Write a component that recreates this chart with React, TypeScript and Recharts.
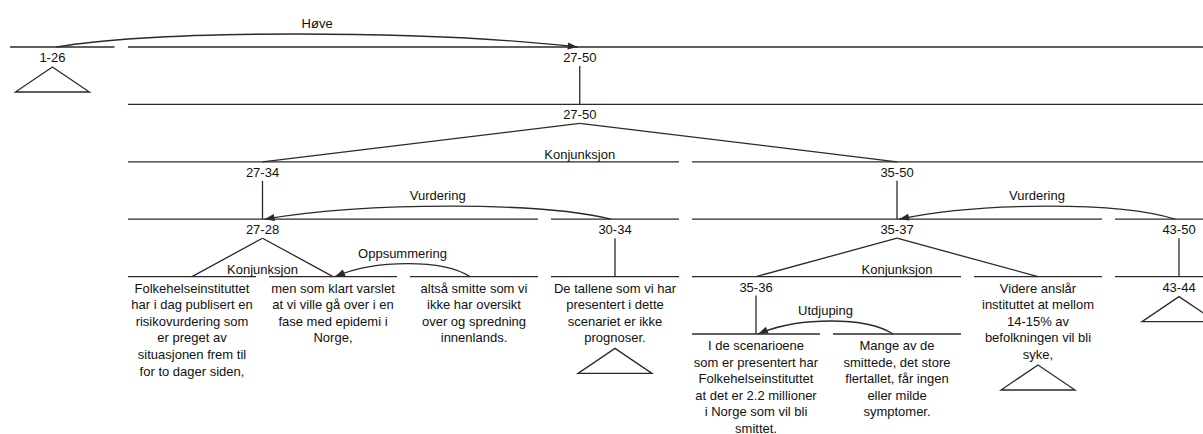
import { ScatterChart, Scatter, XAxis, YAxis, ReferenceLine } from "recharts";

// x: one unit per text column (column 0 = segment 27), y: one unit per tree level
const X_DOMAIN = [-1.3617, 7.1702];
const Y_DOMAIN = [-0.8188, 6.7422];
const X_END = 7.17;

// horizontal span rules: [level, from, to] in column units
const spanRules: [number, number, number][] = [
  [0, -1.29, -0.55],
  [0, -0.454, X_END],
  [1, -0.454, X_END],
  [2, -0.454, 3.454],
  [2, 3.546, X_END],
  [3, -0.454, 2.454],
  [3, 2.546, 3.454],
  [3, 3.546, 6.454],
  [3, 6.546, X_END],
  [4, -0.454, 0.454],
  [4, 0.546, 1.454],
  [4, 1.546, 2.454],
  [4, 2.546, 3.454],
  [4, 3.546, 5.454],
  [4, 5.546, 6.454],
  [4, 6.546, X_END],
  [5, 3.546, 4.454],
  [5, 4.546, 5.454],
];

// span nodes
const nodes = [
  { label: "1-26", col: -0.99, level: 0, collapsed: true },
  { label: "27-50", col: 2.75, level: 0 },
  { label: "27-50", col: 2.75, level: 1 },
  { label: "27-34", col: 0.5, level: 2 },
  { label: "35-50", col: 5, level: 2 },
  { label: "27-28", col: 0.5, level: 3 },
  { label: "30-34", col: 3, level: 3 },
  { label: "35-37", col: 5, level: 3 },
  { label: "43-50", col: 7, level: 3 },
  { label: "35-36", col: 4, level: 4 },
  { label: "43-44", col: 7, level: 4, collapsed: true },
];

// parent -> child links: [parentCol, parentLevel, childCol, childLevel]
const links: [number, number, number, number][] = [
  [2.75, 0, 2.75, 1],
  [2.75, 1, 0.5, 2],
  [2.75, 1, 5, 2],
  [0.5, 2, 0.5, 3],
  [5, 2, 5, 3],
  [0.5, 3, 0, 4],
  [0.5, 3, 1, 4],
  [3, 3, 3, 4],
  [5, 3, 4, 4],
  [5, 3, 6, 4],
  [7, 3, 7, 4],
  [4, 4, 4, 5],
];

// mononuclear relations: satellite -> nucleus
const relations = [
  { name: "Høve", sat: -0.99, nuc: 2.75, level: 0 },
  { name: "Vurdering", sat: 3, nuc: 0.5, level: 3 },
  { name: "Vurdering", sat: 7, nuc: 5, level: 3 },
  { name: "Oppsummering", sat: 2, nuc: 1, level: 4 },
  { name: "Utdjuping", sat: 5, nuc: 4, level: 5 },
];

// multinuclear relation labels
const multiLabels = [
  { name: "Konjunksjon", col: 2.75, level: 2 },
  { name: "Konjunksjon", col: 0.5, level: 4 },
  { name: "Konjunksjon", col: 5, level: 4 },
];

// text segments
const leaves = [
  {
    col: 0,
    level: 4,
    lines: [
      "Folkehelseinstituttet",
      "har i dag publisert en",
      "risikovurdering som",
      "er preget av",
      "situasjonen frem til",
      "for to dager siden,",
    ],
  },
  { col: 1, level: 4, lines: ["men som klart varslet", "at vi ville gå over i en", "fase med epidemi i", "Norge,"] },
  { col: 2, level: 4, lines: ["altså smitte som vi", "ikke har oversikt", "over og spredning", "innenlands."] },
  {
    col: 3,
    level: 4,
    lines: ["De tallene som vi har", "presentert i dette", "scenariet er ikke", "prognoser."],
    collapsed: true,
  },
  {
    col: 4,
    level: 5,
    lines: [
      "I de scenarioene",
      "som er presentert har",
      "Folkehelseinstituttet",
      "at det er 2.2 millioner",
      "i Norge som vil bli",
      "smittet.",
    ],
  },
  {
    col: 5,
    level: 5,
    lines: ["Mange av de", "smittede, det store", "flertallet, får ingen", "eller milde", "symptomer."],
  },
  {
    col: 6,
    level: 4,
    lines: ["Videre anslår", "instituttet at mellom", "14-15% av", "befolkningen vil bli", "syke,"],
    collapsed: true,
  },
];

const INK = "#2a2a2a";
const FONT = '"Liberation Sans", Arial, sans-serif';
const FS = 13;
const LINE_H = 16.6;
const LABEL_GAP = 19;

const Tri = ({ x, y }: { x: number; y: number }) => (
  <polygon points={`${x},${y} ${x - 37},${y + 25} ${x + 37},${y + 25}`} fill="none" stroke={INK} strokeWidth={1.3} />
);

const NodeShape = (props: any) => {
  const { cx, cy, payload } = props;
  return (
    <g>
      <text x={cx} y={cy + 15} textAnchor="middle" fontFamily={FONT} fontSize={FS} fill="#111">
        {payload.label}
      </text>
      {payload.collapsed && <Tri x={cx} y={cy + 20} />}
    </g>
  );
};

const LeafShape = (props: any) => {
  const { cx, cy, payload } = props;
  const n = payload.lines.length;
  return (
    <g>
      <text textAnchor="middle" fontFamily={FONT} fontSize={FS} fill="#111">
        {payload.lines.map((t: string, i: number) => (
          <tspan key={i} x={cx} y={cy + 16 + i * LINE_H}>
            {t}
          </tspan>
        ))}
      </text>
      {payload.collapsed && <Tri x={cx} y={cy + 16 + (n - 1) * LINE_H + 6} />}
    </g>
  );
};

const MultiShape = (props: any) => {
  const { cx, cy, payload } = props;
  return (
    <text x={cx} y={cy - 3} textAnchor="middle" fontFamily={FONT} fontSize={FS} fill="#111">
      {payload.name}
    </text>
  );
};

const arcShape = (name: string) => (p: any) => {
  const dir = Math.sign(p.x2 - p.x1);
  const x1 = p.x1 + dir * 4;
  const x2 = p.x2 - dir * 2;
  const y = p.y1;
  const d = x2 - x1;
  const k = 13 / 0.75;
  const c1x = x1 + d * 0.2;
  const c2x = x2 - d * 0.3;
  const ang = Math.atan2(k, x2 - c2x);
  const pt = (lx: number, ly: number) =>
    `${x2 + lx * Math.cos(ang) - ly * Math.sin(ang)},${y + lx * Math.sin(ang) + ly * Math.cos(ang)}`;
  return (
    <g>
      <path
        d={`M${x1},${y} C${c1x},${y - k} ${c2x},${y - k} ${x2},${y}`}
        fill="none"
        stroke={INK}
        strokeWidth={1.3}
      />
      <polygon points={`${pt(0, 0)} ${pt(-10, -3.5)} ${pt(-10, 3.5)}`} fill={INK} />
      <text x={(x1 + x2) / 2} y={y - 19} textAnchor="middle" fontFamily={FONT} fontSize={FS} fill="#111">
        {name}
      </text>
    </g>
  );
};

const linkShape = (p: any) => (
  <line x1={p.x1} y1={p.y1 + LABEL_GAP} x2={p.x2} y2={p.y2} stroke={INK} strokeWidth={1.3} />
);

export default function App() {
  const nodeData = nodes.map((n) => ({ ...n, x: n.col, y: n.level }));
  const leafData = leaves.map((l) => ({ ...l, x: l.col, y: l.level }));
  const multiData = multiLabels.map((m) => ({ ...m, x: m.col, y: m.level }));

  return (
    <div style={{ position: "absolute", left: 0, top: 0, background: "#fff" }}>
      <ScatterChart width={1203} height={434} margin={{ top: 0, right: 0, bottom: 0, left: 0 }}>
        <XAxis type="number" dataKey="x" domain={X_DOMAIN} allowDataOverflow hide />
        <YAxis type="number" dataKey="y" domain={Y_DOMAIN} allowDataOverflow reversed hide />

        {spanRules.map(([lv, a, b], i) => (
          <ReferenceLine
            key={`r${i}`}
            segment={[
              { x: a, y: lv },
              { x: b, y: lv },
            ]}
            stroke={INK}
            strokeWidth={1.3}
            ifOverflow="visible"
          />
        ))}

        {links.map(([pc, pl, cc, cl], i) => (
          <ReferenceLine
            key={`l${i}`}
            segment={[
              { x: pc, y: pl },
              { x: cc, y: cl },
            ]}
            ifOverflow="visible"
            shape={linkShape}
          />
        ))}

        {relations.map((r, i) => (
          <ReferenceLine
            key={`a${i}`}
            segment={[
              { x: r.sat, y: r.level },
              { x: r.nuc, y: r.level },
            ]}
            ifOverflow="visible"
            shape={arcShape(r.name)}
          />
        ))}

        <Scatter data={nodeData} shape={NodeShape} isAnimationActive={false} />
        <Scatter data={leafData} shape={LeafShape} isAnimationActive={false} />
        <Scatter data={multiData} shape={MultiShape} isAnimationActive={false} />
      </ScatterChart>
    </div>
  );
}
